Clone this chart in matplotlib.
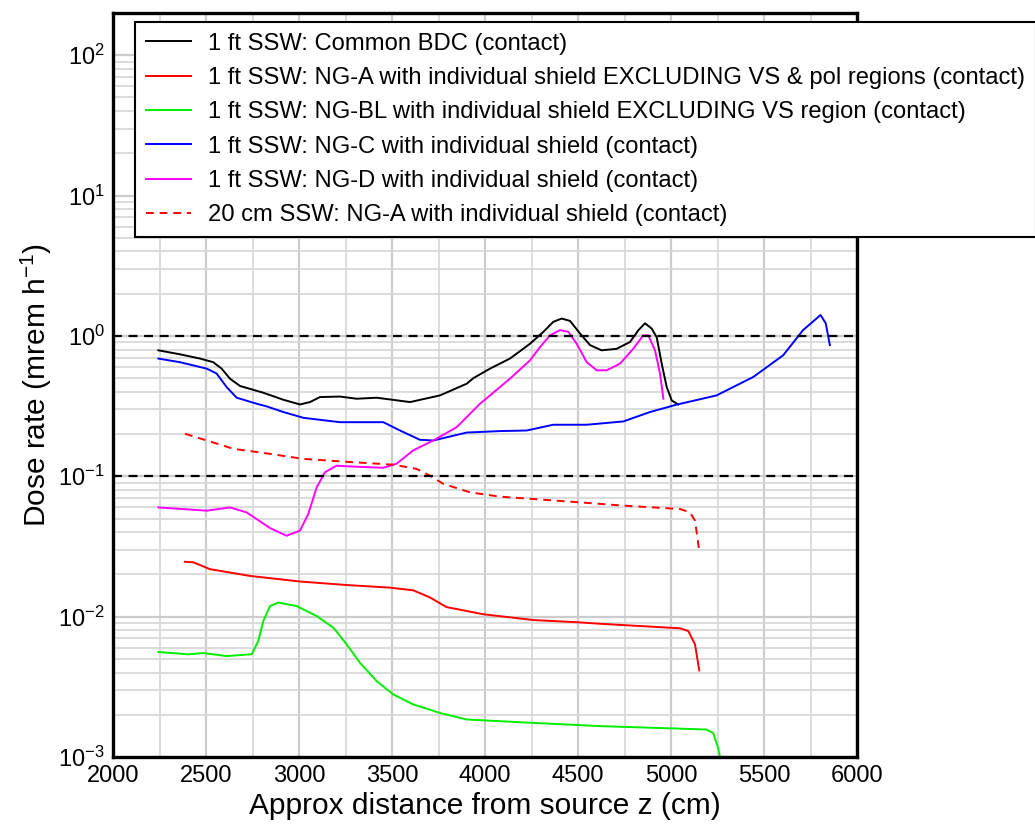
import matplotlib
matplotlib.use("Agg")
import matplotlib.pyplot as plt
from matplotlib.ticker import LogLocator, MultipleLocator, NullFormatter, LogFormatterMathtext

plt.rcParams["font.family"] = ["Liberation Sans", "DejaVu Sans"]
plt.rcParams["mathtext.fontset"] = "custom"
plt.rcParams["mathtext.rm"] = "Liberation Sans"
plt.rcParams["mathtext.it"] = "Liberation Sans:italic"

# --- data (z in cm, dose rate in mrem/h) ---
z_bdc = [2244, 2360, 2468, 2539, 2584, 2629, 2683, 2808, 2916, 3005, 3059, 3113, 3220,
         3310, 3418, 3597, 3758, 3902, 3937, 4027, 4134, 4242, 4314, 4367, 4412, 4457,
         4511, 4565, 4627, 4708, 4780, 4825, 4860, 4896, 4923, 4950, 4977, 5004, 5039]
d_bdc = [0.79, 0.74, 0.69, 0.65, 0.585, 0.496, 0.44, 0.394, 0.351, 0.325, 0.338, 0.367, 0.37,
         0.357, 0.363, 0.338, 0.377, 0.457, 0.50, 0.585, 0.69, 0.88, 1.07, 1.26, 1.33, 1.28,
         1.04, 0.86, 0.79, 0.81, 0.906, 1.10, 1.23, 1.13, 0.98, 0.635, 0.432, 0.347, 0.325]

z_nga = [2387, 2432, 2521, 2737, 3005, 3256, 3489, 3614, 3704, 3793, 3991, 4260, 4511,
         4618, 5048, 5093, 5129, 5152]
d_nga = [0.0246, 0.0244, 0.0218, 0.0195, 0.0178, 0.0168, 0.0161, 0.0154, 0.0137, 0.0117,
         0.0104, 0.00946, 0.0091, 0.0089, 0.00826, 0.0079, 0.00635, 0.00414]

z_ngbl = [2244, 2405, 2486, 2611, 2683, 2746, 2781, 2808, 2844, 2889, 2987, 3095, 3185,
          3256, 3328, 3418, 3507, 3614, 3758, 3902, 4260, 4618, 5190, 5227, 5250, 5268]
d_ngbl = [0.0056, 0.00539, 0.0055, 0.00524, 0.00532, 0.0054, 0.0067, 0.0093, 0.0119, 0.0126,
          0.0119, 0.0101, 0.00834, 0.00635, 0.00469, 0.00347, 0.00279, 0.00237, 0.00206,
          0.00185, 0.00175, 0.00166, 0.00157, 0.00148, 0.00120, 0.00095]

z_ngc = [2244, 2360, 2504, 2557, 2611, 2665, 2772, 2826, 2916, 3024, 3220, 3453, 3543,
         3650, 3722, 3902, 4081, 4224, 4367, 4547, 4744, 4887, 5030, 5245, 5442, 5603,
         5710, 5804, 5832, 5854]
d_ngc = [0.69, 0.65, 0.585, 0.54, 0.432, 0.363, 0.329, 0.315, 0.287, 0.261, 0.243, 0.243,
         0.212, 0.182, 0.18, 0.205, 0.21, 0.212, 0.233, 0.233, 0.246, 0.287, 0.324, 0.377,
         0.51, 0.728, 1.10, 1.41, 1.23, 0.86]

z_ngd = [2244, 2504, 2629, 2719, 2844, 2933, 3005, 3050, 3095, 3140, 3202, 3310, 3453,
         3525, 3614, 3722, 3848, 3973, 4027, 4134, 4242, 4296, 4350, 4403, 4448, 4493,
         4547, 4601, 4654, 4726, 4797, 4851, 4878, 4914, 4941, 4959]
d_ngd = [0.060, 0.0569, 0.060, 0.0553, 0.0428, 0.0377, 0.041, 0.0539, 0.0834, 0.107, 0.119,
         0.117, 0.115, 0.123, 0.153, 0.18, 0.224, 0.329, 0.377, 0.496, 0.67, 0.834, 1.01,
         1.10, 1.07, 0.88, 0.65, 0.569, 0.569, 0.635, 0.81, 1.01, 1.01, 0.79, 0.54, 0.357]

z_20cm = [2387, 2504, 2647, 2844, 3024, 3292, 3507, 3632, 3704, 3776, 3919, 4081, 4511,
          4744, 5048, 5102, 5129, 5152]
d_20cm = [0.201, 0.18, 0.157, 0.1445, 0.133, 0.126, 0.121, 0.113, 0.101, 0.0883, 0.0769,
          0.0716, 0.0652, 0.0618, 0.0585, 0.0553, 0.0483, 0.0295]

limits = [1.0, 0.1]

labels = [
    "1 ft SSW: Common BDC (contact)",
    "1 ft SSW: NG-A with individual shield EXCLUDING VS & pol regions (contact)",
    "1 ft SSW: NG-BL with individual shield EXCLUDING VS region (contact)",
    "1 ft SSW: NG-C with individual shield (contact)",
    "1 ft SSW: NG-D with individual shield (contact)",
    "20 cm SSW: NG-A with individual shield (contact)",
]


def main():
    fig = plt.figure(figsize=(10.35, 8.25), dpi=100)
    ax = fig.add_axes([113 / 1035, 1 - 757 / 825, 744 / 1035, 744 / 825])

    lw = 1.4
    ax.plot(z_bdc, d_bdc, color="black", lw=lw, label=labels[0])
    ax.plot(z_nga, d_nga, color="#ff0000", lw=lw, label=labels[1])
    ax.plot(z_ngbl, d_ngbl, color="#00ee00", lw=lw, label=labels[2])
    ax.plot(z_ngc, d_ngc, color="#0000ff", lw=lw, label=labels[3])
    ax.plot(z_ngd, d_ngd, color="#ff00ff", lw=lw, label=labels[4])
    ax.plot(z_20cm, d_20cm, color="#ff0000", lw=lw, ls=(0, (4, 3)), label=labels[5])

    for lim in limits:
        ax.axhline(lim, color="black", lw=1.6, ls=(0, (4, 3)), zorder=3)

    ax.set_yscale("log")
    ax.set_xlim(2000, 6000)
    ax.set_ylim(1e-3, 200)

    ax.xaxis.set_major_locator(MultipleLocator(500))
    ax.xaxis.set_minor_locator(MultipleLocator(250))
    ax.yaxis.set_major_locator(LogLocator(base=10))
    ax.yaxis.set_major_formatter(LogFormatterMathtext())
    ax.yaxis.set_minor_locator(LogLocator(base=10, subs=range(2, 10)))
    ax.yaxis.set_minor_formatter(NullFormatter())

    ax.grid(which="major", color="#cccccc", lw=1.6, zorder=0)
    ax.grid(which="minor", color="#d6d6d6", lw=1.2, zorder=0)
    ax.set_axisbelow(True)

    ax.tick_params(which="both", length=0, labelsize=17, pad=6)
    for s in ax.spines.values():
        s.set_linewidth(2.4)

    ax.set_xlabel("Approx distance from source z (cm)", fontsize=21.5, labelpad=3)
    ax.set_ylabel("Dose rate (mrem h$^{-1}$)", fontsize=21.5, labelpad=3)

    leg = fig.legend(loc="upper left", bbox_to_anchor=(135 / 1035, 1 - 22 / 825),
                     fontsize=17.1, frameon=True, fancybox=False, edgecolor="black",
                     framealpha=1, handlelength=1.9, handletextpad=0.72,
                     labelspacing=0.52, borderpad=0.45, borderaxespad=0)
    leg.get_frame().set_linewidth(1.5)

    fig.savefig("out.png", dpi=100)
    plt.close(fig)


if __name__ == "__main__":
    main()
